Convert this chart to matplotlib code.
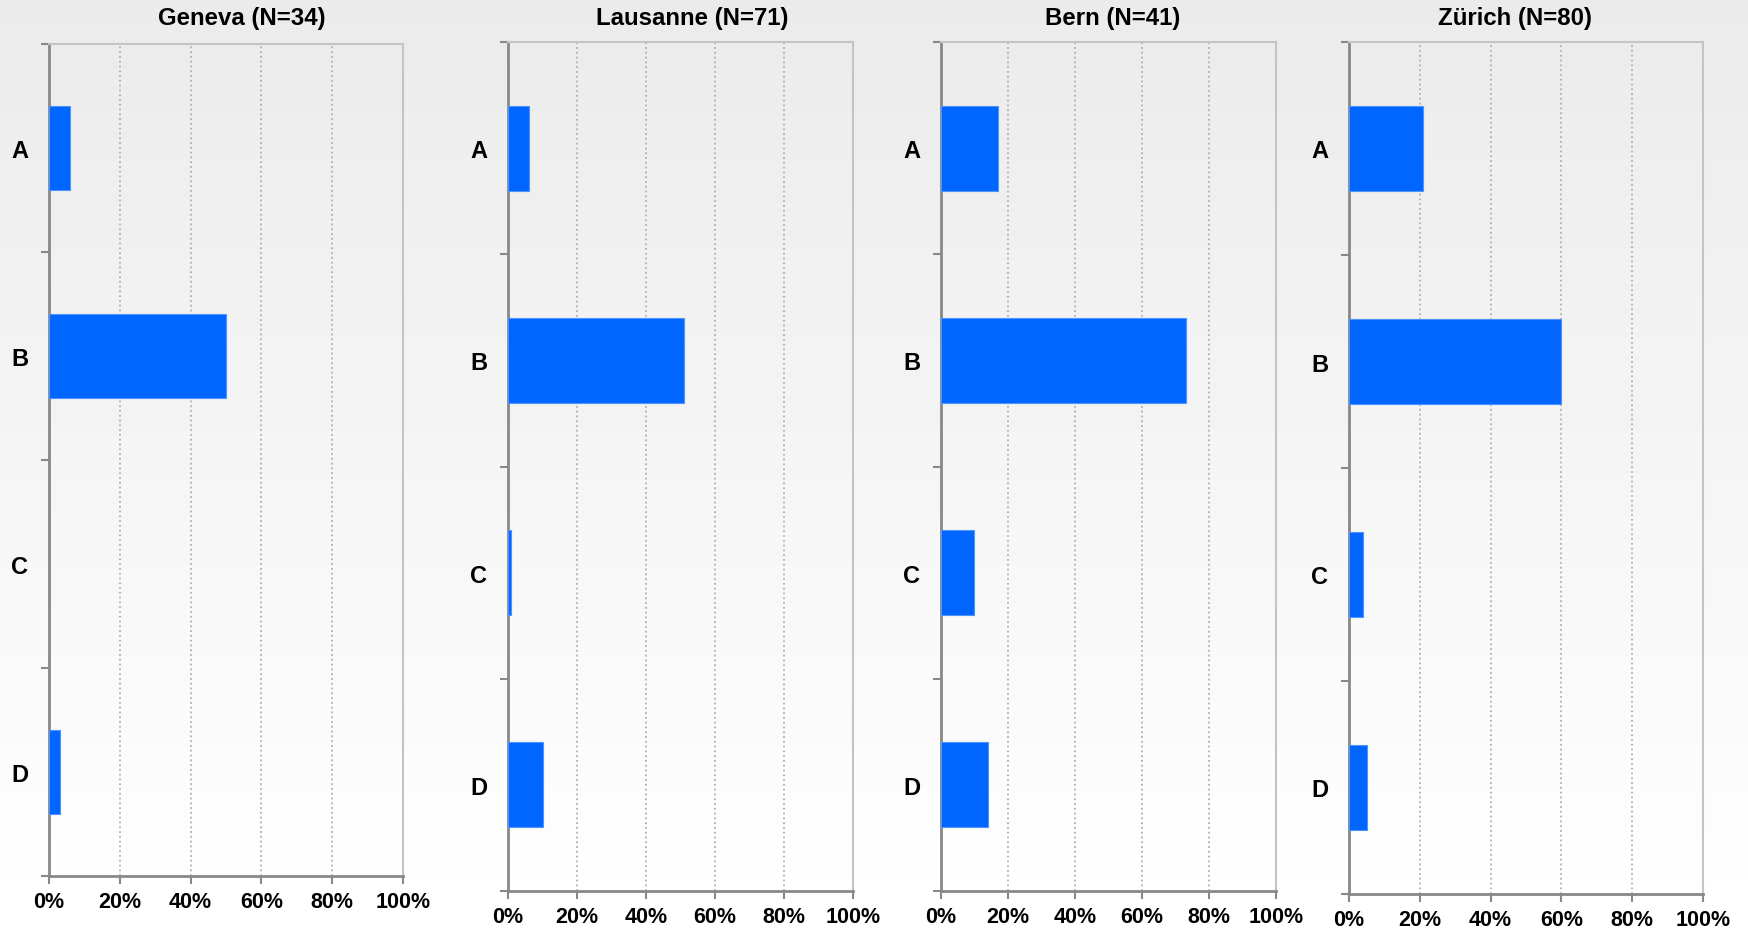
import matplotlib

matplotlib.use("Agg")

import matplotlib.pyplot as plt
import numpy as np
from matplotlib.ticker import FixedLocator, PercentFormatter

plt.rcParams["font.family"] = ["Liberation Sans", "DejaVu Sans"]
plt.rcParams["font.weight"] = "bold"

categories = ["A", "B", "C", "D"]
cities = ["Geneva", "Lausanne", "Bern", "Zürich"]
sample_sizes = [34, 71, 41, 80]
geneva = [6, 50, 0, 3]
lausanne = [6, 51, 1, 10]
bern = [17, 73, 10, 14]
zurich = [21, 60, 4, 5]
x_ticks = [0, 20, 40, 60, 80, 100]

W, H = 1748, 929
# axes boxes in pixels: left, top, right, bottom
boxes = [
    (49, 45, 403, 877),
    (508, 43, 853, 892),
    (941, 43, 1276, 892),
    (1349, 43, 1703, 895),
]
title_x = [242, 692, 1113, 1515]

fig = plt.figure(figsize=(W / 100, H / 100), dpi=100)

# light grey to white background gradient
bg = fig.add_axes([0, 0, 1, 1], zorder=-10)
grad = np.linspace(0.92, 1.0, 256).reshape(-1, 1)
bg.imshow(np.repeat(grad, 2, axis=1), cmap="gray", vmin=0, vmax=1, aspect="auto",
          extent=[0, 1, 0, 1], origin="upper")
bg.axis("off")

for city, n, values, (l, t, r, b), tx in zip(
    cities, sample_sizes, [geneva, lausanne, bern, zurich], boxes, title_x
):
    ax = fig.add_axes([l / W, 1 - b / H, (r - l) / W, (b - t) / H])
    ax.patch.set_alpha(0)
    y = np.arange(len(categories))
    edges = ["#4d94ff" if v > 0 else "none" for v in values]
    ax.barh(y, values, height=0.4, color="#0066ff", edgecolor=edges, linewidth=0.8, zorder=3)
    ax.set_xlim(0, 100)
    ax.set_ylim(len(categories) - 0.5, -0.5)

    ax.set_yticks(y)
    ax.set_yticklabels(categories, fontsize=17, fontweight="bold")
    ax.tick_params(axis="y", which="major", length=0, pad=15)
    ax.yaxis.set_minor_locator(FixedLocator(np.arange(-0.5, len(categories), 1.0)))
    ax.tick_params(axis="y", which="minor", length=6, width=1.5, color="#888888", direction="out")

    ax.set_xticks(x_ticks)
    ax.xaxis.set_major_formatter(PercentFormatter(decimals=0))
    ax.tick_params(axis="x", length=6, width=1.5, color="#888888", labelsize=15.5, pad=5)
    for lab in ax.get_xticklabels():
        lab.set_fontweight("bold")

    ax.grid(axis="x", linestyle=":", color="#b0b0b0", linewidth=1.3, zorder=0)
    ax.set_axisbelow(True)

    ax.spines["left"].set_color("#888888")
    ax.spines["left"].set_linewidth(2)
    ax.spines["bottom"].set_color("#888888")
    ax.spines["bottom"].set_linewidth(2)
    ax.spines["top"].set_color("#c4c4c4")
    ax.spines["top"].set_linewidth(1.5)
    ax.spines["right"].set_color("#c4c4c4")
    ax.spines["right"].set_linewidth(1.5)

    fig.text(tx / W, 1 - 18 / H, f"{city} (N={n})", ha="center", va="center",
             fontsize=17.3, fontweight="bold")

fig.savefig("out.png", dpi=100)
plt.close(fig)
